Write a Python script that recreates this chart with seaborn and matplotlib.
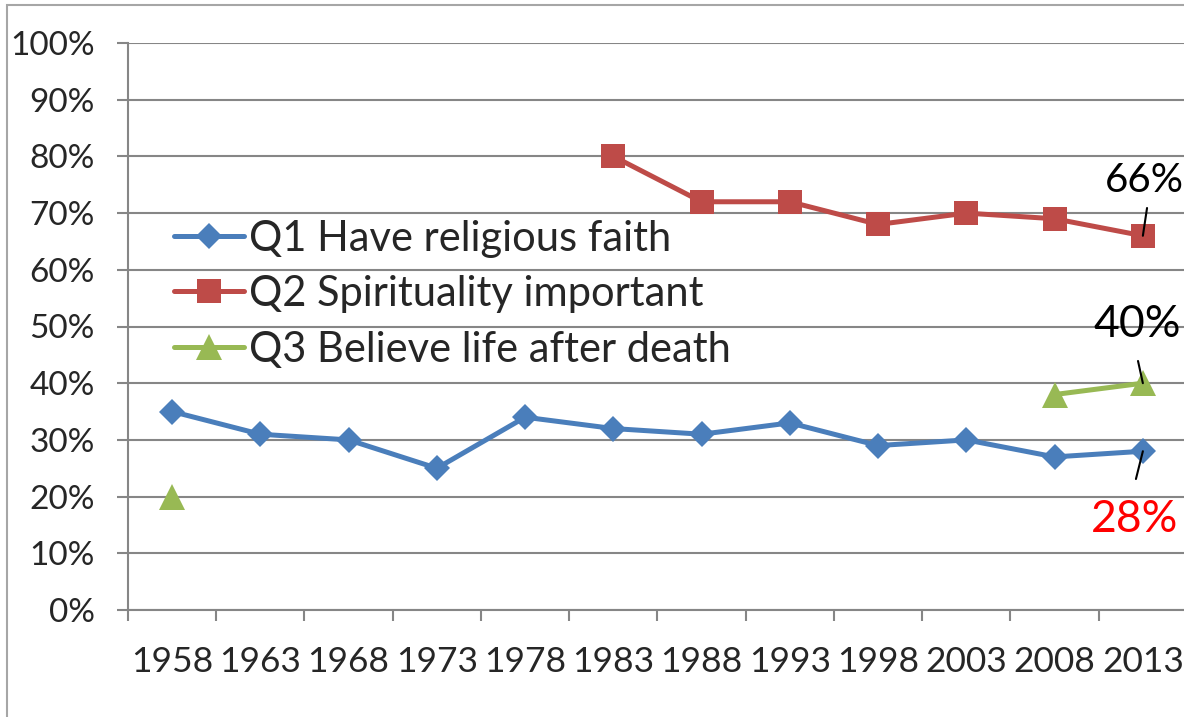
import numpy as np
import pandas as pd
import seaborn as sns
import matplotlib.pyplot as plt
from matplotlib.lines import Line2D
from matplotlib.patches import Rectangle
from matplotlib.ticker import PercentFormatter, FixedLocator

# data
years = [1958, 1963, 1968, 1973, 1978, 1983, 1988, 1993, 1998, 2003, 2008, 2013]
q1_years = years
q1_values = [35, 31, 30, 25, 34, 32, 31, 33, 29, 30, 27, 28]
q2_years = [1983, 1988, 1993, 1998, 2003, 2008, 2013]
q2_values = [80, 72, 72, 68, 70, 69, 66]
q3_years = [1958, 2008, 2013]
q3_values = [20, 38, 40]
q3_segment = [0, 1, 1]  # 1958 stands alone, no line to 2008

labels = ["Q1 Have religious faith", "Q2 Spirituality important", "Q3 Believe life after death"]
colors = ["#4A7EBB", "#BE4B48", "#98B954"]
markers = ["D", "s", "^"]
msizes = [13.5, 17, 19]

sns.set_theme(style="white")
plt.rcParams["font.family"] = ["Lato", "DejaVu Sans"]

fig = plt.figure(figsize=(11.84, 7.17), dpi=100)
ax = fig.add_axes([128 / 1184, 1 - 610 / 717, 1059 / 1184, 567 / 717])

q1 = pd.DataFrame({"year": q1_years, "value": np.array(q1_values) / 100})
q2 = pd.DataFrame({"year": q2_years, "value": np.array(q2_values) / 100})
q3 = pd.DataFrame({"year": q3_years, "value": np.array(q3_values) / 100, "seg": q3_segment})

line_kw = dict(linewidth=3.6, markeredgewidth=0)
sns.lineplot(data=q1, x="year", y="value", ax=ax, color=colors[0], marker=markers[0],
             markersize=msizes[0], **line_kw)
sns.lineplot(data=q2, x="year", y="value", ax=ax, color=colors[1], marker=markers[1],
             markersize=msizes[1], **line_kw)
sns.lineplot(data=q3, x="year", y="value", units="seg", estimator=None, ax=ax,
             color=colors[2], marker=markers[2], markersize=msizes[2], **line_kw)

grid_c = "#868686"
ax.set_xlim(1955.5, 2015.5)
ax.set_ylim(0, 1.0)
ax.set_yticks(np.arange(0, 1.01, 0.1))
ax.yaxis.set_major_formatter(PercentFormatter(1.0, decimals=0))
ax.set_xticks(years)
ax.set_xticklabels([str(y) for y in years])
ax.xaxis.set_minor_locator(FixedLocator(np.arange(1955.5, 2016, 5)))
ax.tick_params(axis="x", which="major", length=0, pad=26, labelsize=25.5)
ax.tick_params(axis="x", which="minor", bottom=True, length=8, width=1.5, color=grid_c)
ax.tick_params(axis="y", left=True, length=8, width=1.5, color=grid_c, pad=16, labelsize=24)
ax.set_xlabel("")
ax.set_ylabel("")
ax.grid(axis="y", color=grid_c, linewidth=1.5)
ax.set_axisbelow(True)
for s in ["top", "right"]:
    ax.spines[s].set_visible(False)
for s in ["left", "bottom"]:
    ax.spines[s].set_color(grid_c)
    ax.spines[s].set_linewidth(1.5)

# legend (no frame, gridlines show through)
handles = [Line2D([], [], color=c, marker=m, markersize=ms, linewidth=3.6, markeredgewidth=0)
           for c, m, ms in zip(colors, markers, msizes)]
ax.legend(handles, labels, loc="center left", bbox_to_anchor=(174 / 1184, 1 - 294 / 717),
          bbox_transform=fig.transFigure, frameon=False, fontsize=30, borderpad=0,
          borderaxespad=0, handlelength=1.68, handletextpad=0.12, labelspacing=0.42)

# end-point labels
ax.text(2013.1, 0.758, "66%", fontsize=29, color="black", ha="center", va="center")
ax.text(2012.66, 0.503, "40%", fontsize=32, color="black", ha="center", va="center")
ax.text(2012.55, 0.159, "28%", fontsize=32, color="#FF0000", ha="center", va="center")

# leader lines from the last points
leader = dict(arrowstyle="-", color="black", lw=1.5, shrinkA=0, shrinkB=0)
ax.annotate("", xy=(2013, 0.66), xytext=(3, 20), textcoords="offset points",
            arrowprops=leader)
ax.annotate("", xy=(2013, 0.40), xytext=(-3.5, 16), textcoords="offset points",
            arrowprops=leader)
ax.annotate("", xy=(2013, 0.28), xytext=(-5, -20), textcoords="offset points",
            arrowprops=leader)

# outer chart frame
fig.patches.append(Rectangle((7 / 1184, -0.1), 1.2, 1 - 5 / 717 + 0.1, transform=fig.transFigure,
                             fill=False, edgecolor="#A6A6A6", linewidth=1.5))

fig.savefig("out.png", dpi=100)
